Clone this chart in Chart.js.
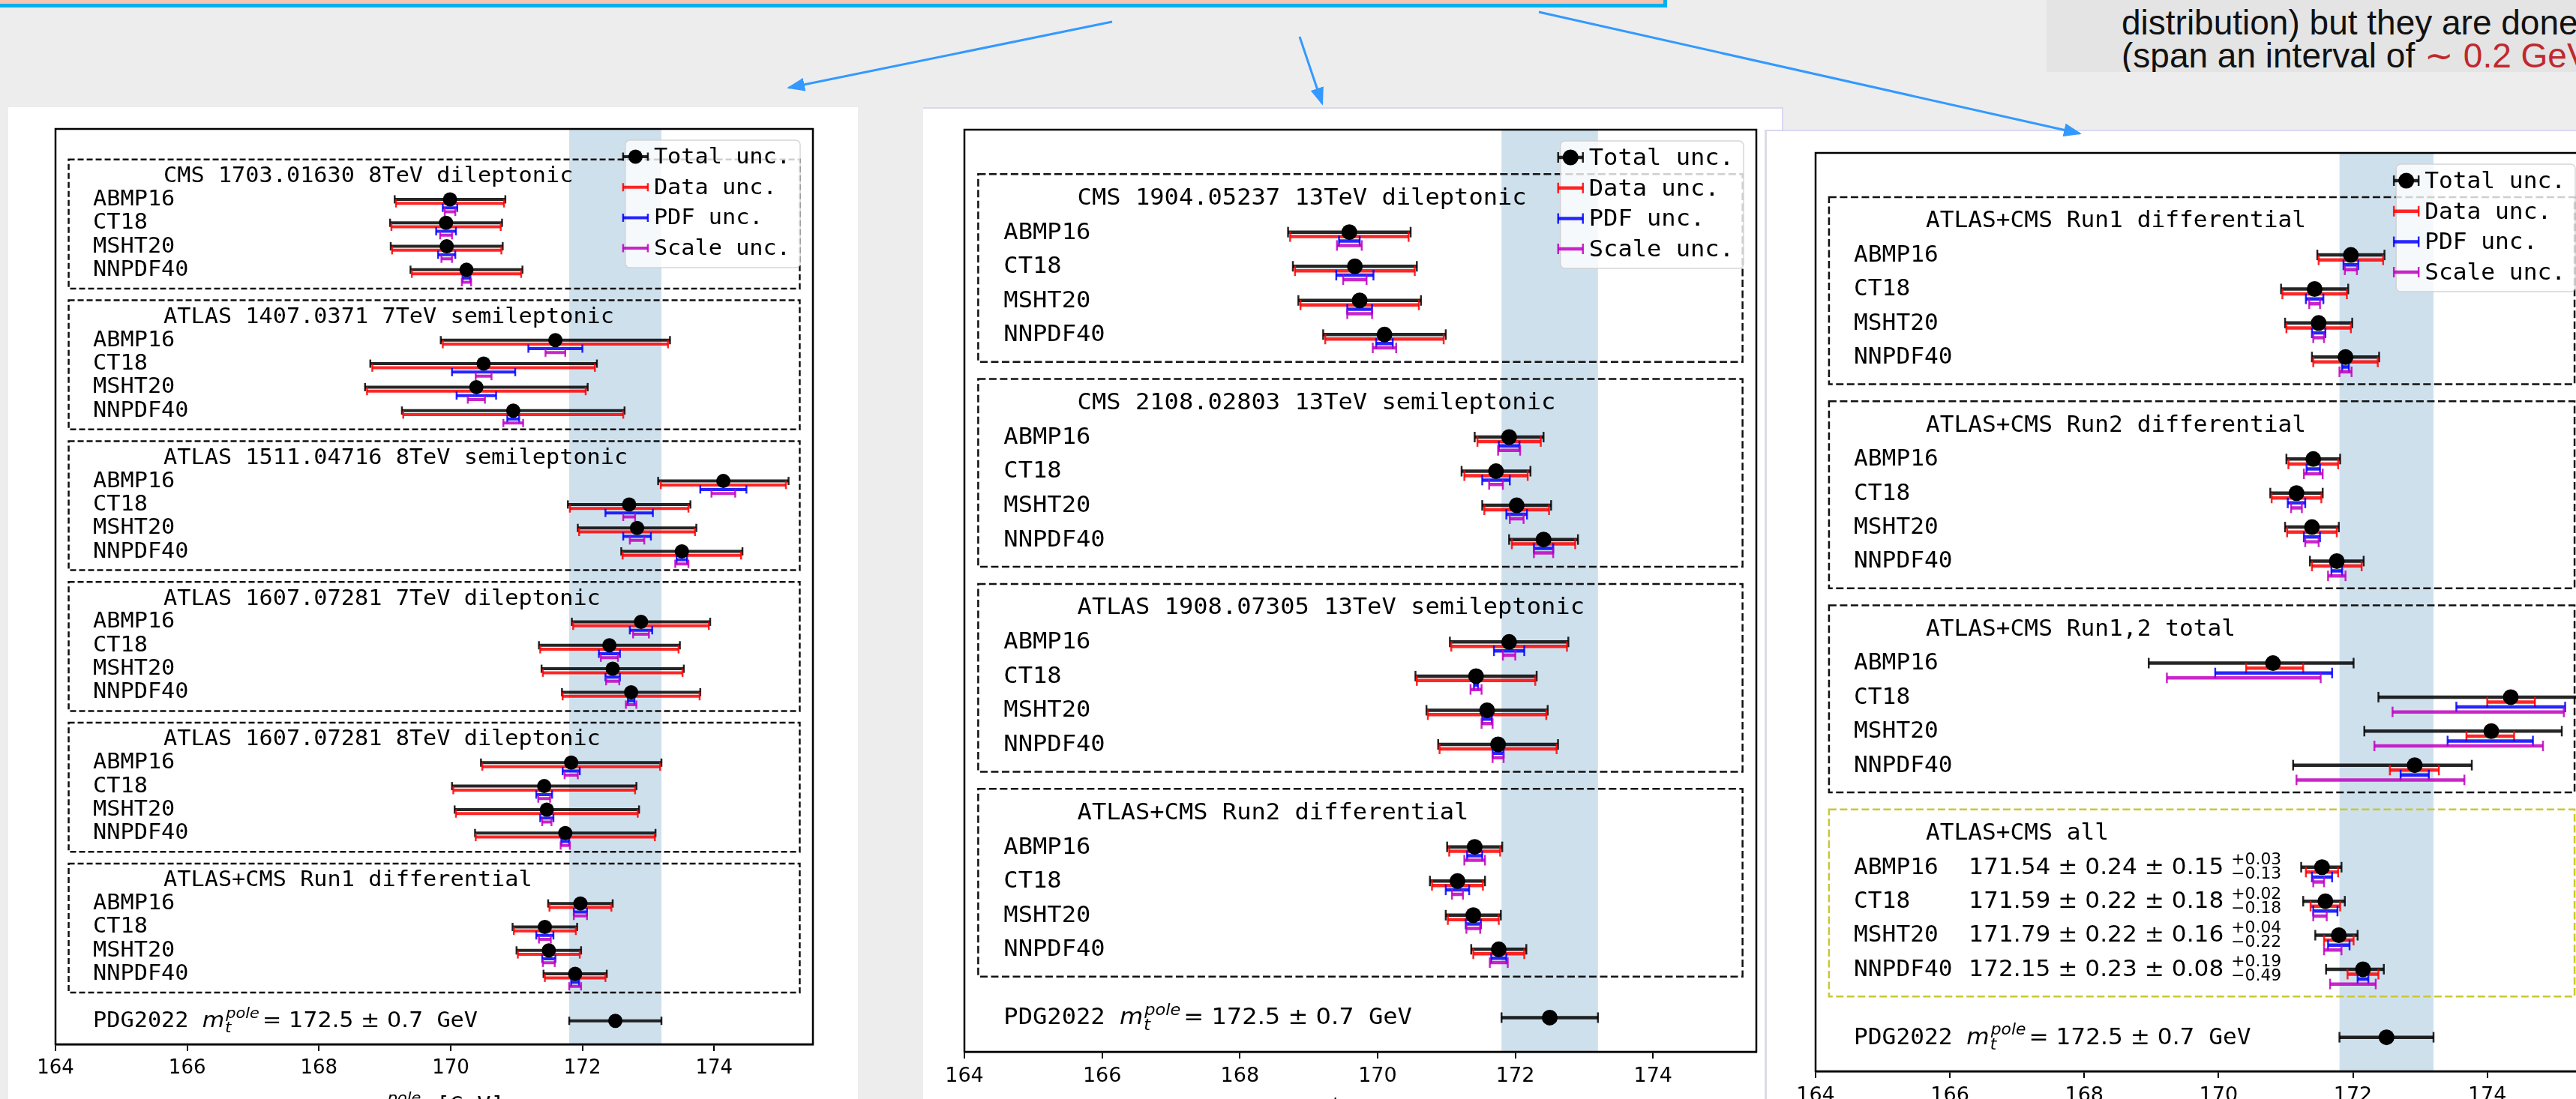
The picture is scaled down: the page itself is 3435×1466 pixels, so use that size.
<!DOCTYPE html>
<html><head><meta charset="utf-8">
<script src="https://cdn.jsdelivr.net/npm/chart.js@4.4.0/dist/chart.umd.min.js"></script>
<style>
html,body{margin:0;padding:0;}
body{width:3435px;height:1466px;overflow:hidden;background:#ededed;position:relative;font-family:"Liberation Sans",Arial,sans-serif;}
.card{position:absolute;background:#fff;box-sizing:border-box;}
canvas{position:absolute;}
</style></head><body>
<div style="position:absolute;left:-10px;top:-60px;width:2233px;height:70px;box-sizing:border-box;background:#f4c5b0;border:5px solid #00b0f0;"></div>
<div style="position:absolute;left:2729px;top:0;width:706px;height:96px;background:#e4e4e4;overflow:hidden;">
  <div style="position:absolute;left:100px;top:6px;font-size:46px;line-height:48px;white-space:nowrap;color:#111;">distribution) but they are done</div>
  <div style="position:absolute;left:100px;top:50px;font-size:46px;line-height:48px;white-space:nowrap;color:#111;">(span an interval of <span style="color:#c0282d">∼ 0.2 GeV</span></div>
</div>
<div class="card" style="left:11px;top:143px;width:1133px;height:1400px;"></div>
<div class="card" style="left:1231px;top:143px;width:1147px;height:1400px;border-top:2px solid #d8d8f2;border-right:2px solid #d8d8f2;"></div>
<div class="card" style="left:2353px;top:173px;width:1200px;height:1400px;border-top:2px solid #d8d8f2;border-left:3px solid #dcdce6;"></div>
<canvas id="c1" width="1133" height="1400" style="left:11px;top:143px;width:1133px;height:1400px"></canvas>
<canvas id="c2" width="1147" height="1400" style="left:1231px;top:143px;width:1147px;height:1400px"></canvas>
<canvas id="c3" width="1150" height="1400" style="left:2353px;top:173px;width:1150px;height:1400px"></canvas>
<svg width="3435" height="300" style="position:absolute;left:0;top:0;overflow:visible">
  <defs><marker id="ah" markerWidth="8" markerHeight="6" refX="7" refY="3" orient="auto" markerUnits="strokeWidth"><path d="M0,0 L8,3 L0,6 z" fill="#3399ff"/></marker></defs>
  <line x1="1483" y1="29" x2="1052" y2="117" stroke="#3399ff" stroke-width="3" marker-end="url(#ah)"/>
  <line x1="1733" y1="49" x2="1763" y2="138" stroke="#3399ff" stroke-width="3" marker-end="url(#ah)"/>
  <line x1="2052" y1="16" x2="2773" y2="178" stroke="#3399ff" stroke-width="3" marker-end="url(#ah)"/>
</svg>
<script>
// ---------------- data ----------------
const pdfSets = ['ABMP16', 'CT18', 'MSHT20', 'NNPDF40'];
const legendLabels = ['Total unc.', 'Data unc.', 'PDF unc.', 'Scale unc.'];
const xTicks = [164, 166, 168, 170, 172, 174];
const xRange = [164, 175.5];
const pdgCentral = 172.5;
const pdgUnc = 0.7;
const bandRange = [171.8, 173.2];

const p1Titles = ['CMS 1703.01630 8TeV dileptonic', 'ATLAS 1407.0371 7TeV semileptonic',
  'ATLAS 1511.04716 8TeV semileptonic', 'ATLAS 1607.07281 7TeV dileptonic',
  'ATLAS 1607.07281 8TeV dileptonic', 'ATLAS+CMS Run1 differential'];
const p1Central = [
  [169.99, 169.93, 169.94, 170.24],
  [171.59, 170.50, 170.39, 170.95],
  [174.14, 172.71, 172.83, 173.51],
  [172.89, 172.41, 172.46, 172.74],
  [171.83, 171.42, 171.46, 171.74],
  [171.97, 171.43, 171.49, 171.89]];
const p1Total = [
  [0.84, 0.85, 0.85, 0.85],
  [1.74, 1.72, 1.69, 1.69],
  [0.99, 0.93, 0.90, 0.92],
  [1.05, 1.07, 1.08, 1.05],
  [1.37, 1.40, 1.40, 1.37],
  [0.49, 0.49, 0.49, 0.48]];
const p1Data = [
  [0.82, 0.83, 0.83, 0.83],
  [1.71, 1.69, 1.66, 1.67],
  [0.95, 0.90, 0.88, 0.90],
  [1.03, 1.05, 1.06, 1.04],
  [1.35, 1.38, 1.38, 1.36],
  [0.47, 0.47, 0.47, 0.46]];
const p1Pdf = [
  [0.11, 0.15, 0.13, 0.06],
  [0.41, 0.48, 0.30, 0.09],
  [0.35, 0.36, 0.21, 0.08],
  [0.17, 0.16, 0.11, 0.05],
  [0.13, 0.12, 0.10, 0.06],
  [0.10, 0.13, 0.10, 0.06]];
const p1Scale = [
  [0.08, 0.09, 0.08, 0.07],
  [0.15, 0.12, 0.13, 0.15],
  [0.18, 0.09, 0.11, 0.10],
  [0.12, 0.13, 0.10, 0.08],
  [0.10, 0.09, 0.07, 0.07],
  [0.10, 0.09, 0.09, 0.09]];

const p2Titles = ['CMS 1904.05237 13TeV dileptonic', 'CMS 2108.02803 13TeV semileptonic',
  'ATLAS 1908.07305 13TeV semileptonic', 'ATLAS+CMS Run2 differential'];
const p2Central = [
  [169.59, 169.67, 169.74, 170.10],
  [171.91, 171.72, 172.02, 172.41],
  [171.91, 171.43, 171.59, 171.75],
  [171.41, 171.16, 171.39, 171.76]];
const p2Total = [
  [0.89, 0.90, 0.89, 0.89],
  [0.50, 0.50, 0.50, 0.50],
  [0.86, 0.88, 0.88, 0.87],
  [0.40, 0.40, 0.40, 0.40]];
const p2Data = [
  [0.86, 0.87, 0.86, 0.86],
  [0.46, 0.46, 0.47, 0.46],
  [0.84, 0.86, 0.86, 0.85],
  [0.37, 0.37, 0.37, 0.37]];
const p2Pdf = [
  [0.15, 0.27, 0.18, 0.12],
  [0.15, 0.20, 0.15, 0.14],
  [0.22, 0.03, 0.07, 0.08],
  [0.11, 0.17, 0.11, 0.11]];
const p2Scale = [
  [0.18, 0.17, 0.18, 0.17],
  [0.16, 0.10, 0.10, 0.14],
  [0.09, 0.08, 0.08, 0.08],
  [0.15, 0.08, 0.10, 0.13]];

const p3Titles = ['ATLAS+CMS Run1 differential', 'ATLAS+CMS Run2 differential',
  'ATLAS+CMS Run1,2 total', 'ATLAS+CMS all'];
const p3Central = [
  [171.97, 171.43, 171.49, 171.89],
  [171.41, 171.16, 171.39, 171.76],
  [170.81, 174.35, 174.06, 172.92],
  [171.54, 171.59, 171.79, 172.15]];
const p3Total = [
  [0.50, 0.50, 0.50, 0.50],
  [0.40, 0.39, 0.40, 0.40],
  [[1.85, 1.20], [1.97, 1.19], [1.89, 1.05], [1.81, 0.85]],
  [[0.31, 0.29], [0.33, 0.29], [0.35, 0.28], [0.55, 0.31]]];
const p3Data = [
  [0.48, 0.48, 0.48, 0.48],
  [0.37, 0.37, 0.37, 0.37],
  [[0.40, 0.45], [0.35, 0.36], [0.37, 0.34], [0.37, 0.36]],
  [0.24, 0.22, 0.22, 0.23]];
const p3Pdf = [
  [0.11, 0.13, 0.10, 0.05],
  [0.10, 0.13, 0.12, 0.08],
  [[0.86, 0.88], [0.81, 0.81], [0.65, 0.62], [0.21, 0.21]],
  [0.15, 0.18, 0.16, 0.08]];
const p3Scale = [
  [0.09, 0.08, 0.08, 0.09],
  [0.14, 0.08, 0.10, 0.13],
  [[1.58, 0.71], [1.76, 0.79], [1.74, 0.77], [1.76, 0.74]],
  [[0.13, 0.03], [0.18, 0.02], [0.22, 0.04], [0.49, 0.19]]];
const p3AllValues = ['171.54 ± 0.24 ± 0.15', '171.59 ± 0.22 ± 0.18', '171.79 ± 0.22 ± 0.16', '172.15 ± 0.23 ± 0.08'];
const p3AllUp = ['+0.03', '+0.02', '+0.04', '+0.19'];
const p3AllDown = ['−0.13', '−0.18', '−0.22', '−0.49'];

// ---------------- drawing ----------------
const COLORS = ['rgba(0,0,0,0.85)', 'rgba(255,0,0,0.85)', 'rgba(0,0,255,0.85)', 'rgba(191,0,191,0.85)'];
const MONO = '"DejaVu Sans Mono", "Liberation Mono", monospace';
const SANS = '"DejaVu Sans", sans-serif';

function drawText(ctx, s, x, y, font, sx, color) {
  ctx.save();
  ctx.font = font; ctx.fillStyle = color || '#000';
  ctx.textAlign = 'left'; ctx.textBaseline = 'alphabetic';
  ctx.translate(x, y); ctx.scale(sx, 1);
  ctx.fillText(s, 0, 0);
  const w = ctx.measureText(s).width * sx;
  ctx.restore();
  return w;
}
function measure(ctx, s, font, sx) { ctx.save(); ctx.font = font; const w = ctx.measureText(s).width * sx; ctx.restore(); return w; }

function makePanel(P) {
  const n = P.titles.length;
  const rowY = (g, r) => 3 + 6 * g + r;
  const pdgY = 6 * n + 2, yMax = 6 * n + 3;
  const series = [P.total, P.data, P.pdf, P.scale];
  const offs = [0].concat(P.offs);
  const datasets = [];
  series.forEach((errs, k) => {
    const pts = [];
    P.central.forEach((row, g) => row.forEach((c, r) => {
      const e = errs[g][r];
      const m = Array.isArray(e) ? e[0] : e, p = Array.isArray(e) ? e[1] : e;
      const yy = rowY(g, r) + offs[k];
      pts.push({x: c - m, y: yy}, {x: c + p, y: yy}, {x: c, y: null});
    }));
    if (k === 0) pts.push({x: pdgCentral - pdgUnc, y: pdgY}, {x: pdgCentral + pdgUnc, y: pdgY});
    datasets.push({data: pts, showLine: true, spanGaps: false, borderColor: COLORS[k], borderWidth: P.lw,
      pointStyle: 'line', rotation: 90, pointRadius: P.cap, pointHoverRadius: P.cap,
      pointBorderColor: COLORS[k], pointBackgroundColor: COLORS[k], pointBorderWidth: 2.5, order: 5 - k});
  });
  const marks = [];
  P.central.forEach((row, g) => row.forEach((c, r) => marks.push({x: c, y: rowY(g, r)})));
  marks.push({x: pdgCentral, y: pdgY});
  datasets.push({data: marks, showLine: false, pointStyle: 'circle', pointRadius: P.mr, pointHoverRadius: P.mr,
    pointBackgroundColor: '#000', pointBorderColor: '#000', pointBorderWidth: 0, order: 0});

  const mono = `${P.fs}px ${MONO}`;
  const cap = 0.729 * P.fs;

  const plugin = {
    id: 'panel' + P.id,
    beforeDatasetsDraw(chart) {
      const {ctx, chartArea: a, scales: {x, y}} = chart;
      ctx.save();
      ctx.fillStyle = 'rgb(207,224,237)';
      const b0 = x.getPixelForValue(bandRange[0]), b1 = x.getPixelForValue(bandRange[1]);
      ctx.fillRect(b0, a.top, b1 - b0, a.bottom - a.top);
      const bl = x.getPixelForValue(164.2), br = x.getPixelForValue(175.3);
      const lx = x.getPixelForValue(164.57), tx = x.getPixelForValue(165.64);
      P.titles.forEach((t, g) => {
        const top = y.getPixelForValue(rowY(g, 0) - 1.7), bot = y.getPixelForValue(rowY(g, 3) + 0.8);
        ctx.setLineDash(P.dash); ctx.lineWidth = 2.5;
        ctx.strokeStyle = (P.boxColors && P.boxColors[g]) || '#111';
        ctx.strokeRect(bl, top, br - bl, bot - top);
        ctx.setLineDash([]);
        drawText(ctx, t, tx, y.getPixelForValue(rowY(g, 0) - 1.05) + cap / 2, mono, P.sx);
        pdfSets.forEach((s, r) => {
          const yc = y.getPixelForValue(rowY(g, r)) - 2;
          drawText(ctx, s, lx, yc + cap / 2, mono, P.sx);
          if (P.allGroup === g) {
            const vx = x.getPixelForValue(166.28);
            const w = drawText(ctx, p3AllValues[r], vx, yc + cap / 2, `${P.fs}px ${SANS}`, P.sx);
            const sf = `${Math.round(P.fs * 0.7)}px ${SANS}`;
            drawText(ctx, p3AllUp[r], vx + w + 10, yc + 7.5 - 9, sf, P.sx);
            drawText(ctx, p3AllDown[r], vx + w + 10, yc + 7.5 + 10, sf, P.sx);
          }
        });
      });
      // PDG label
      const yc = y.getPixelForValue(pdgY) - 2, base = yc + cap / 2;
      let xx = lx;
      xx += drawText(ctx, 'PDG2022 ', xx, base, mono, P.sx);
      xx += drawText(ctx, 'm', xx, base, `italic ${P.fs}px ${SANS}`, P.sx);
      const sf = `italic ${Math.round(P.fs * 0.7)}px ${SANS}`;
      const w1 = drawText(ctx, 't', xx + 1, base + P.fs * 0.25, sf, P.sx);
      const w2 = drawText(ctx, 'pole', xx + 2, base - P.fs * 0.42, sf, P.sx);
      xx += Math.max(w1, w2) + 6;
      xx += drawText(ctx, '= 172.5 ± 0.7', xx, base, `${P.fs}px ${SANS}`, P.sx);
      drawText(ctx, ' GeV', xx, base, mono, P.sx);
      ctx.restore();
    },
    afterDraw(chart) {
      const {ctx, chartArea: a} = chart;
      ctx.save();
      ctx.strokeStyle = '#000'; ctx.lineWidth = 2.5;
      ctx.strokeRect(a.left, a.top, a.right - a.left, a.bottom - a.top);
      // legend
      const tw = Math.max(...legendLabels.map(s => measure(ctx, s, mono, P.sx)));
      const R = a.right - 17, L = R - tw - 38 - 13, T = a.top + 15, H = 170;
      ctx.beginPath(); ctx.roundRect(L, T, R - L, H, 6);
      ctx.fillStyle = 'rgba(255,255,255,0.8)'; ctx.fill();
      ctx.strokeStyle = 'rgba(204,204,204,0.8)'; ctx.lineWidth = 1.5; ctx.stroke();
      legendLabels.forEach((s, i) => {
        const yy = T + 22 + i * 40.7;
        ctx.strokeStyle = COLORS[i];
        ctx.lineWidth = P.lw;
        ctx.beginPath(); ctx.moveTo(L - 3, yy); ctx.lineTo(L + 30, yy); ctx.stroke();
        ctx.lineWidth = 2.5;
        ctx.beginPath();
        ctx.moveTo(L - 3, yy - P.cap); ctx.lineTo(L - 3, yy + P.cap);
        ctx.moveTo(L + 30, yy - P.cap); ctx.lineTo(L + 30, yy + P.cap);
        ctx.stroke();
        if (i === 0) { ctx.fillStyle = '#000'; ctx.beginPath(); ctx.arc(L + 13.5, yy, P.mr, 0, Math.PI * 2); ctx.fill(); }
        drawText(ctx, s, L + 38, yy + cap / 2 - 1, mono, P.sx);
      });
      // x axis title
      const cx = (a.left + a.right) / 2, base = a.bottom + 90;
      const fm = `italic ${P.fs}px ${SANS}`, fsup = `italic ${Math.round(P.fs * 0.7)}px ${SANS}`;
      const wm = measure(ctx, 'm', fm, P.sx), wp = measure(ctx, 'pole', fsup, P.sx), wg = measure(ctx, ' [GeV]', mono, P.sx);
      let sx0 = cx - (wm + wp + 4 + wg) / 2;
      sx0 += drawText(ctx, 'm', sx0, base, fm, P.sx);
      drawText(ctx, 't', sx0 + 1, base + P.fs * 0.25, fsup, P.sx);
      drawText(ctx, 'pole', sx0 + 2, base - P.fs * 0.42, fsup, P.sx);
      sx0 += wp + 4;
      drawText(ctx, ' [GeV]', sx0, base, mono, P.sx);
      ctx.restore();
    }
  };

  new Chart(document.getElementById(P.canvas), {
    type: 'scatter',
    data: {datasets},
    options: {
      responsive: false, animation: false, devicePixelRatio: 1, events: [],
      layout: {padding: {left: P.pad[0], top: P.pad[1], right: P.pad[2], bottom: 0}},
      plugins: {legend: {display: false}, tooltip: {enabled: false}},
      scales: {
        x: {type: 'linear', min: xRange[0], max: xRange[1],
          afterBuildTicks: s => { s.ticks = xTicks.map(v => ({value: v})); },
          afterFit: s => { s.height = P.xH; },
          ticks: {autoSkip: false, maxRotation: 0, minRotation: 0, color: '#000', padding: P.tpad,
            font: {family: 'DejaVu Sans', size: P.tfs}, callback: v => String(v)},
          grid: {drawOnChartArea: false, drawTicks: true, tickLength: 9, tickWidth: 2, tickColor: '#000', color: '#000', lineWidth: 2},
          border: {display: true, color: '#000', width: 2.5}},
        y: {type: 'linear', display: false, min: 0, max: yMax, reverse: true}
      }
    },
    plugins: [plugin]
  });
}

makePanel({id: 1, canvas: 'c1', titles: p1Titles, central: p1Central, total: p1Total, data: p1Data, pdf: p1Pdf, scale: p1Scale,
  pad: [63, 29, 60], xH: 150, fs: 27.5, sx: 1.1, tfs: 26, tpad: 8, mr: 9.5, cap: 5.5, lw: 4, offs: [0.17, 0.36, 0.53], dash: [8, 4]});
makePanel({id: 2, canvas: 'c2', titles: p2Titles, central: p2Central, total: p2Total, data: p2Data, pdf: p2Pdf, scale: p2Scale,
  pad: [55, 30, 36], xH: 140, fs: 30, sx: 1.07, tfs: 27, tpad: 8, mr: 10.5, cap: 7, lw: 4.5, offs: [0.13, 0.26, 0.39], dash: [10, 4.5]});
makePanel({id: 3, canvas: 'c3', titles: p3Titles, central: p3Central, total: p3Total, data: p3Data, pdf: p3Pdf, scale: p3Scale,
  pad: [68, 31, 52], xH: 144, fs: 30, sx: 1.04, tfs: 27, tpad: 8, mr: 10.5, cap: 7, lw: 4.5, offs: [0.145, 0.29, 0.435], dash: [10, 4.5],
  boxColors: [null, null, null, '#c8c832'], allGroup: 3});
</script>
</body></html>
